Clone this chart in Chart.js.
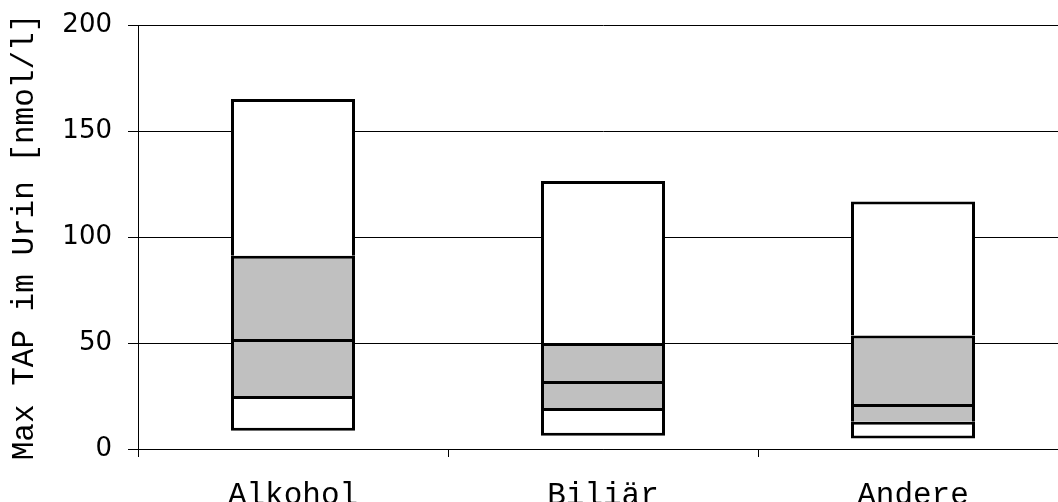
<!DOCTYPE html>
<html>
<head>
<meta charset="utf-8">
<script src="https://cdn.jsdelivr.net/npm/chart.js@4/dist/chart.umd.min.js"></script>
<style>
  html, body { margin: 0; padding: 0; background: #fff; overflow: hidden; }
  #wrap { width: 1058px; height: 502px; overflow: hidden; }
  canvas { display: block; }
</style>
</head>
<body>
<div id="wrap"><canvas id="c" width="1068" height="502"></canvas></div>
<script>
// Groups and five-number summaries of max TAP in urine (nmol/l)
const categories = ['Alkohol', 'Biliär', 'Andere'];
const minVals    = [8.6, 6.3, 4.9];
const q1Vals     = [25.0, 19.3, 12.9];
const medianVals = [51.9, 32.1, 21.2];
const q3Vals     = [91.2, 50.0, 53.5];
const maxVals    = [165.1, 126.4, 116.7];
const yTicks     = [0, 50, 100, 150, 200];

const pairs = (lo, hi) => lo.map((v, i) => [v, hi[i]]);

const common = {
  borderColor: '#000',
  borderSkipped: false,
  grouped: false,
  inflateAmount: 0,
  barPercentage: 0.4,
  categoryPercentage: 1.0
};

// Each segment strokes its own top edge; the lowest one also closes the bottom
const segments = [
  { data: pairs(minVals, q1Vals),     bg: '#ffffff', bw: { top: 3, bottom: 3, left: 3, right: 3 } },
  { data: pairs(q1Vals, medianVals),  bg: '#c0c0c0', bw: { top: 3, bottom: 0, left: 3, right: 3 } },
  { data: pairs(medianVals, q3Vals),  bg: '#c0c0c0', bw: { top: 3, bottom: 0, left: 3, right: 3 } },
  { data: pairs(q3Vals, maxVals),     bg: '#ffffff', bw: { top: 3, bottom: 0, left: 3, right: 3 } }
];

const datasets = segments.map(s => Object.assign({}, common, {
  data: s.data,
  backgroundColor: s.bg,
  borderWidth: s.bw
}));

new Chart(document.getElementById('c'), {
  type: 'bar',
  data: { labels: categories, datasets },
  options: {
    responsive: false,
    animation: false,
    layout: { padding: { top: 25, right: 0, bottom: 0, left: 0 } },
    plugins: { legend: { display: false }, tooltip: { enabled: false } },
    scales: {
      x: {
        offset: true,
        grid: {
          display: true,
          drawOnChartArea: false,
          drawTicks: true,
          tickLength: 8,
          color: '#000',
          lineWidth: 1
        },
        border: { display: true, color: '#000', width: 1 },
        ticks: {
          color: '#000',
          padding: 20,
          font: { family: 'Liberation Mono', size: 31 }
        },
        afterFit: (scale) => { scale.height = 53; }
      },
      y: {
        min: 0,
        max: 200,
        afterBuildTicks: (scale) => { scale.ticks = yTicks.map(v => ({ value: v })); },
        grid: {
          color: '#000',
          lineWidth: 1,
          tickLength: 10
        },
        border: { display: true, color: '#000', width: 1 },
        ticks: {
          color: '#000',
          padding: 16,
          font: { family: 'DejaVu Sans', size: 26, lineHeight: 0.4 }
        },
        title: {
          display: true,
          text: 'Max TAP im Urin [nmol/l]',
          color: '#000',
          padding: { top: 6, bottom: 0 },
          font: { family: 'Liberation Mono', size: 31, lineHeight: 1.2 }
        },
        afterFit: (scale) => { scale.width = 138; }
      }
    }
  }
});
</script>
</body>
</html>
